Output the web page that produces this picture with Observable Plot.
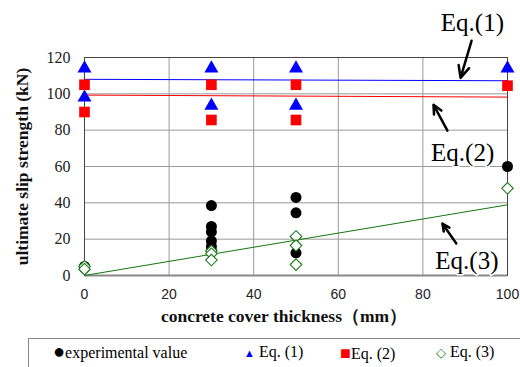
<!DOCTYPE html>
<html><head><meta charset="utf-8">
<script src="https://cdn.jsdelivr.net/npm/d3@7"></script>
<script src="https://cdn.jsdelivr.net/npm/@observablehq/plot@0.6"></script>
<style>
body{margin:0;background:#fff;width:520px;height:367px;overflow:hidden;position:relative;}
#legend{position:absolute;left:28px;top:338px;width:520px;height:29px;border-top:1px solid #888;border-left:1px solid #888;box-sizing:border-box;font-family:"Liberation Serif",serif;font-size:16px;color:#000;}
#legend span{position:absolute;top:4px;white-space:nowrap;}
.serif{font-family:"Liberation Serif",serif !important;}
.sans{font-family:"Liberation Sans",sans-serif !important;}
</style>
</head><body>
<div id="chart"></div>
<div id="legend">
<span style="left:24px;top:1px"><span style="position:static;font-size:20px">●</span><span style="position:static;font-size:16px">experimental value</span></span>
<span style="left:215px"><span style="position:static;color:#0000ff;font-size:11px">▲</span>&nbsp;Eq. (1)</span>
<span style="left:311px"><span style="position:static;color:#ff0000;font-size:18px">■</span>Eq. (2)</span>
<span style="left:407px"><span style="position:static;color:#1a7a1a;font-size:13px">◇</span>&nbsp;Eq. (3)</span>
</div>
<script>
// cover thickness (mm) / strength (kN)
const expX = [0, 0, 30, 30, 30, 30, 30, 30, 50, 50, 50, 100];
const expY = [4, 5, 38.5, 27, 24, 19, 16, 13.5, 43, 34.5, 12.5, 60];
const eq1X = [0, 0, 30, 30, 50, 50, 100];
const eq1Y = [114, 98, 114, 93.5, 114, 93.5, 114];
const eq2X = [0, 0, 30, 30, 50, 50, 100];
const eq2Y = [105, 90, 105, 85.6, 105, 85.6, 104.5];
const eq3X = [0, 0, 30, 30, 30, 50, 50, 50, 100];
const eq3Y = [5, 3.5, 13.5, 12, 8.5, 21.5, 16.5, 6, 48];
// fitted lines: [x, y] at ends
const line1X = [0, 100], line1Y = [108, 107.2];
const line2X = [0, 100], line2Y = [99.3, 98.2];
const line3X = [0, 100], line3Y = [0, 38.9];
const xTicks = [0, 20, 40, 60, 80, 100];
const yTicks = [0, 20, 40, 60, 80, 100, 120];
// annotation labels (data coords)
const labelText = ["Eq.(1)", "Eq.(2)", "Eq.(3)"];
const labelX = [91.7, 89.4, 90.4];
const labelY = [139, 67.6, 8.2];
const arrowX1 = [91.5, 85.8, 87.9], arrowY1 = [129.2, 79.7, 17.6];
const arrowX2 = [88.9, 82.5, 84.6], arrowY2 = [108.8, 94, 28.6];

const pts = (xs, ys) => xs.map((x, i) => ({x, y: ys[i]}));
const labels = labelText.map((t, i) => ({t, x: labelX[i], y: labelY[i]}));
const arrows = arrowX1.map((x1, i) => ({x1, y1: arrowY1[i], x2: arrowX2[i], y2: arrowY2[i]}));

const chart = Plot.plot({
  width: 520, height: 338,
  marginLeft: 84, marginRight: 13, marginTop: 57, marginBottom: 63,
  x: {domain: [0, 100], ticks: xTicks},
  y: {domain: [0, 120], ticks: yTicks},
  style: {background: "#fff", overflow: "visible"},
  marks: [
    Plot.gridX(xTicks, {stroke: "#999", strokeOpacity: 1}),
    Plot.gridY(yTicks, {stroke: "#999", strokeOpacity: 1}),
    Plot.frame({stroke: "#444"}),
    Plot.ruleY([0], {stroke: "#888", strokeWidth: 2}),
    Plot.axisY({ticks: yTicks, tickSize: 0, tickPadding: 14, fontSize: 16, className: "serif", label: null, color: "#222"}),
    Plot.axisX({ticks: xTicks, tickSize: 0, tickPadding: 14, fontSize: 14, className: "sans", label: null, color: "#222"}),
    Plot.text(["ultimate slip strength (kN)"], {frameAnchor: "left", textAnchor: "middle", dx: -62, rotate: -90, fontSize: 17.5, fontWeight: "bold", className: "serif", fill: "#111"}),
    Plot.text(["concrete cover thickness（mm）"], {frameAnchor: "bottom", dy: 46, dx: -12, fontSize: 17.5, fontWeight: "bold", className: "serif", fill: "#111"}),
    Plot.line(pts(line1X, line1Y), {x: "x", y: "y", stroke: "#0000ff", strokeWidth: 1}),
    Plot.line(pts(line2X, line2Y), {x: "x", y: "y", stroke: "#ff0000", strokeWidth: 1}),
    Plot.line(pts(line3X, line3Y), {x: "x", y: "y", stroke: "#117711", strokeWidth: 1}),
    Plot.dot(pts(expX, expY), {x: "x", y: "y", symbol: "circle", r: 5.5, fill: "#000", stroke: "none"}),
    Plot.dot(pts(eq1X, eq1Y), {x: "x", y: "y", symbol: "triangle", r: 5.2, fill: "#0000ff", stroke: "none"}),
    Plot.dot(pts(eq2X, eq2Y), {x: "x", y: "y", symbol: "square", r: 6, fill: "#ff0000", stroke: "none"}),
    Plot.dot(pts(eq3X, eq3Y), {x: "x", y: "y", symbol: "diamond2", r: 5.2, fill: "#fff", stroke: "#1a7a1a", strokeWidth: 1.1}),
    Plot.arrow(arrows, {x1: "x1", y1: "y1", x2: "x2", y2: "y2", stroke: "#000", strokeWidth: 2.5, headLength: 9, headAngle: 50}),
    Plot.text(labels, {x: "x", y: "y", text: "t", fontSize: 25, className: "serif", fill: "#000", stroke: "#fff", strokeWidth: 3, paintOrder: "stroke"})
  ]
});
document.getElementById("chart").appendChild(chart);
</script>
</body></html>
